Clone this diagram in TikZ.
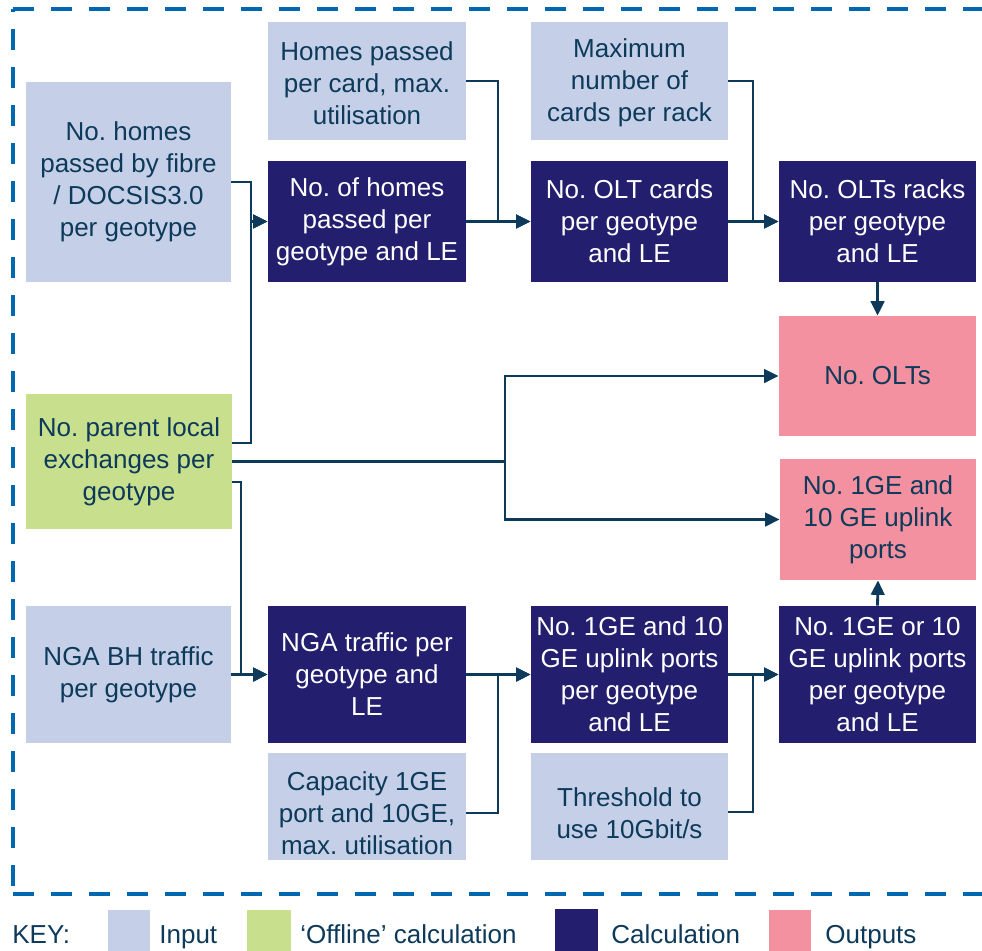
\documentclass[tikz,border=0pt]{standalone}
\usepackage{fontspec}
\setmainfont{Liberation Sans}
\usetikzlibrary{arrows.meta}
\definecolor{inpc}{HTML}{C5D0E8}
\definecolor{offc}{HTML}{C8DF8E}
\definecolor{calcc}{HTML}{241E6E}
\definecolor{outc}{HTML}{F491A0}
\definecolor{txtc}{HTML}{0D3A5A}
\definecolor{bordc}{HTML}{0067B1}
\tikzset{
  box/.style={rectangle, inner sep=0pt, align=center, font=\fontsize{14.8}{18.2}\selectfont},
  inp/.style={box, fill=inpc, text=txtc},
  off/.style={box, fill=offc, text=txtc},
  calc/.style={box, fill=calcc, text=white},
  outp/.style={box, fill=outc, text=txtc},
  conn/.style={draw=txtc, line width=1.6pt, -{Triangle[length=0.29cm,width=0.27cm]}},
  plain/.style={draw=txtc, line width=1.6pt},
  border/.style={draw=bordc, line width=2.3pt, dash pattern=on 0.42cm off 0.34cm},
  keytext/.style={anchor=base west, text=txtc, font=\fontsize{14.8}{18.2}\selectfont, inner sep=0pt},
  swatch/.style={rectangle, inner sep=0pt, minimum width=0.84cm, minimum height=0.84cm, anchor=north west}
}
\begin{document}
\frenchspacing
\begin{tikzpicture}
\useasboundingbox (0,0) rectangle (19.64,-19.0);
\clip (0,0) rectangle (19.64,-19.0);
% dashed frame
\draw[border] (0.26,-0.18) -- (20.5,-0.18);
\draw[border, dash phase=0.36cm] (0.26,-0.18) -- (0.26,-17.88);
\draw[border] (0.26,-17.88) -- (20.5,-17.88);
% boxes
\node[inp, minimum width=4.10cm, minimum height=4.00cm] (A) at (2.57,-3.64) {No. homes\\passed by fibre\\/ DOCSIS3.0\\per geotype};
\node[inp, minimum width=3.96cm, minimum height=2.36cm] (B) at (7.34,-1.62) {\rule{0pt}{0.45cm}Homes passed\\per card, max.\\utilisation};
\node[calc, minimum width=3.96cm, minimum height=2.42cm] (C) at (7.34,-4.43) {No. of homes\\passed per\\geotype and LE};
\node[inp, minimum width=3.94cm, minimum height=2.36cm] (D) at (12.59,-1.62) {\rule{0pt}{0.45cm}Maximum\\number of\\cards per rack};
\node[calc, minimum width=3.94cm, minimum height=2.42cm] (E) at (12.59,-4.43) {No. OLT cards\\per geotype\\and LE};
\node[calc, minimum width=3.94cm, minimum height=2.42cm] (F) at (17.55,-4.43) {No. OLTs racks\\per geotype\\and LE};
\node[outp, minimum width=3.94cm, minimum height=2.40cm] (G) at (17.55,-7.52) {No. OLTs};
\node[outp, minimum width=3.92cm, minimum height=2.42cm] (H) at (17.56,-10.39) {No. 1GE and\\10 GE uplink\\ports};
\node[off, minimum width=4.12cm, minimum height=2.70cm] (I) at (2.58,-9.23) {No. parent local\\exchanges per\\geotype};
\node[inp, minimum width=4.10cm, minimum height=2.74cm] (J) at (2.57,-13.49) {NGA BH traffic\\per geotype};
\node[calc, minimum width=3.96cm, minimum height=2.74cm] (K) at (7.34,-13.49) {NGA traffic per\\geotype and\\LE};
\node[inp, minimum width=3.96cm, minimum height=2.14cm] (L) at (7.34,-16.13) {\rule{0pt}{0.66cm}Capacity 1GE\\port and 10GE,\\max. utilisation};
\node[calc, minimum width=3.94cm, minimum height=2.74cm] (M) at (12.59,-13.49) {No. 1GE and 10\\GE uplink ports\\per geotype\\and LE};
\node[inp, minimum width=3.94cm, minimum height=2.14cm] (N) at (12.59,-16.13) {\rule{0pt}{0.66cm}Threshold to\\use 10Gbit/s};
\node[calc, minimum width=3.94cm, minimum height=2.74cm] (O) at (17.55,-13.49) {No. 1GE or 10\\GE uplink ports\\per geotype\\and LE};
% junction points
\coordinate (jA) at (5.02,-4.43);
\coordinate (jB) at (9.96,-4.43);
\coordinate (jD) at (15.06,-4.43);
\coordinate (jI) at (10.10,-9.23);
\coordinate (jK) at (4.82,-13.49);
\coordinate (jL) at (9.96,-13.49);
\coordinate (jN) at (15.06,-13.49);
% connectors
\draw[conn] (A.east) -| (jA) -- (C.west);
\draw[conn] ([yshift=0.37cm]I.east) -| (jA) -- (C.west);
\draw[conn] (C.east) -- (E.west);
\draw[conn] (B.east) -| (jB) -- (E.west);
\draw[conn] (E.east) -- (F.west);
\draw[conn] (D.east) -| (jD) -- (F.west);
\draw[conn] (F.south) -- (G.north);
\draw[plain] (I.east) -- (jI);
\draw[conn] (jI) |- (G.west);
\draw[conn] (jI) |- (H.west);
\draw[conn] ([yshift=-0.41cm]I.east) -| (jK) -- (K.west);
\draw[conn] (J.east) -- (K.west);
\draw[conn] (K.east) -- (M.west);
\draw[conn] ([yshift=-0.13cm]L.east) -| (jL) -- (M.west);
\draw[conn] (M.east) -- (O.west);
\draw[conn] ([yshift=-0.11cm]N.east) -| (jN) -- (O.west);
\draw[conn] (O.north) -- (H.south);
% key
\node[keytext] (k0) at (0.24,-18.86) {KEY:};
\node[swatch, fill=inpc] (s1) at (2.16,-18.20) {};
\node[keytext] (k1) at (3.18,-18.86) {Input};
\node[swatch, fill=offc, minimum width=0.88cm] (s2) at (4.94,-18.20) {};
\node[keytext] (k2) at (6.00,-18.86) {‘Offline’ calculation};
\node[swatch, fill=calcc, minimum width=0.86cm] (s3) at (11.10,-18.18) {};
\node[keytext] (k3) at (12.22,-18.86) {Calculation};
\node[swatch, fill=outc] (s4) at (15.38,-18.20) {};
\node[keytext] (k4) at (16.50,-18.86) {Outputs};
\end{tikzpicture}
\end{document}
